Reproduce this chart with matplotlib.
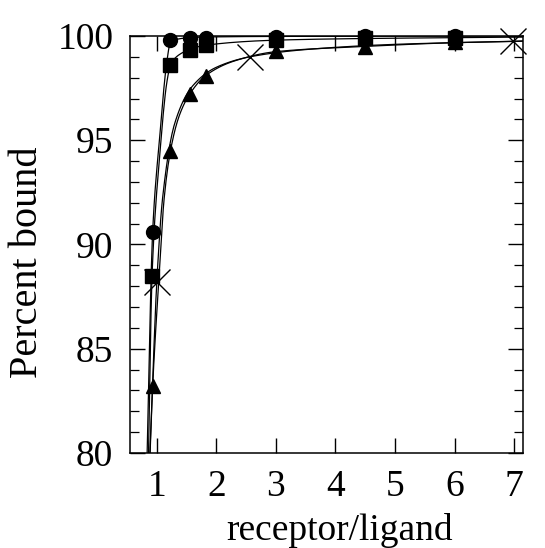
import numpy as np
import matplotlib
matplotlib.use("Agg")
import matplotlib.pyplot as plt

# ---- data ----
circle_x = [0.93, 1.23, 1.55, 1.82, 3.0, 4.5, 6.0]
circle_y = [90.6, 99.8, 99.9, 99.9, 99.95, 100.0, 100.0]

square_x = [0.92, 1.23, 1.55, 1.82, 3.0, 4.5, 6.0]
square_y = [88.5, 98.6, 99.35, 99.55, 99.8, 99.9, 99.9]

triangle_x = [0.93, 1.23, 1.55, 1.82, 3.0, 4.5, 6.0]
triangle_y = [83.2, 94.5, 97.2, 98.1, 99.3, 99.45, 99.7]

cross_x = [1.0, 2.56, 6.98]
cross_y = [88.2, 99.0, 99.75]

# fitted curves (knots)
circle_curve_x = [0.83, 0.93, 1.05, 1.17, 1.23, 1.35, 1.55, 1.8, 3.0, 7.2]
circle_curve_y = [79.0, 90.6, 95.2, 98.8, 99.7, 99.85, 99.92, 99.95, 99.98, 100.0]

square_curve_x = [0.855, 0.92, 1.05, 1.17, 1.23, 1.35, 1.55, 1.8, 3.0, 4.5, 6.0, 7.2]
square_curve_y = [79.0, 88.5, 94.3, 97.8, 98.6, 99.05, 99.35, 99.55, 99.8, 99.88, 99.92, 99.95]

triangle_curve_x = [0.87, 0.93, 1.05, 1.12, 1.23, 1.38, 1.55, 1.82, 2.3, 3.0, 4.5, 6.0, 7.2]
triangle_curve_y = [79.0, 83.2, 89.0, 92.1, 94.5, 96.2, 97.2, 98.1, 98.8, 99.25, 99.5, 99.68, 99.75]

cross_curve_x = [0.875, 1.0, 1.1, 1.3, 1.6, 2.0, 2.56, 3.5, 5.0, 7.0, 7.2]
cross_curve_y = [79.0, 88.2, 92.3, 95.8, 97.6, 98.5, 99.0, 99.35, 99.6, 99.75, 99.77]

xticks = [1, 2, 3, 4, 5, 6, 7]
yticks = [80, 85, 90, 95, 100]


def pchip(x, y, n=400):
    x = np.asarray(x, float)
    y = np.asarray(y, float)
    h = np.diff(x)
    d = np.diff(y) / h
    m = np.zeros_like(y)
    for k in range(1, len(x) - 1):
        if d[k - 1] * d[k] <= 0:
            m[k] = 0
        else:
            w1 = 2 * h[k] + h[k - 1]
            w2 = h[k] + 2 * h[k - 1]
            m[k] = (w1 + w2) / (w1 / d[k - 1] + w2 / d[k])
    m[0] = d[0]
    m[-1] = d[-1]
    xs = np.linspace(x[0], x[-1], n)
    idx = np.clip(np.searchsorted(x, xs) - 1, 0, len(x) - 2)
    t = (xs - x[idx]) / h[idx]
    h00 = 2 * t**3 - 3 * t**2 + 1
    h10 = t**3 - 2 * t**2 + t
    h01 = -2 * t**3 + 3 * t**2
    h11 = t**3 - t**2
    ys = h00 * y[idx] + h10 * h[idx] * m[idx] + h01 * y[idx + 1] + h11 * h[idx] * m[idx + 1]
    return xs, ys


plt.rcParams['font.family'] = ['Liberation Serif', 'DejaVu Serif']

W, H = 545, 548
fig = plt.figure(figsize=(W / 100, H / 100), dpi=100)
ax = fig.add_axes([130 / W, 1 - 453 / H, (523 - 130) / W, (453 - 36) / H])

for cx, cy in [(circle_curve_x, circle_curve_y), (square_curve_x, square_curve_y),
               (triangle_curve_x, triangle_curve_y), (cross_curve_x, cross_curve_y)]:
    xs, ys = pchip(cx, cy)
    ax.plot(xs, ys, color='black', lw=0.9, zorder=2)

ax.plot(circle_x, circle_y, 'o', color='black', ms=10, ls='none', zorder=3, clip_on=False)
ax.plot(square_x, square_y, 's', color='black', ms=9.5, ls='none', zorder=3, clip_on=False)
ax.plot(triangle_x, triangle_y, '^', color='black', ms=10.5, ls='none', zorder=3, clip_on=False)
ax.plot(cross_x, cross_y, 'x', color='black', ms=19, mew=1.0, ls='none', zorder=3, clip_on=False)

ax.set_xlim(0.55, 7.15)
ax.set_ylim(80, 100)
ax.set_xticks(xticks)
ax.set_yticks(yticks)
ax.set_yticks(np.arange(80, 101, 1), minor=True)

ax.tick_params(axis='both', which='major', direction='in', length=11, width=1.0,
               labelsize=27, top=True, right=True, pad=12)
ax.tick_params(axis='y', which='minor', direction='in', length=6.5, width=0.9, right=True)
ax.tick_params(axis='x', which='minor', bottom=False, top=False)

for s in ax.spines.values():
    s.set_linewidth(1.1)

fig.text(340 / W, 1 - 531 / H, 'receptor/ligand', fontsize=27, ha='center', va='center')
fig.text(28 / W, 1 - 262 / H, 'Percent bound', fontsize=29, ha='center', va='center',
         rotation=90)

fig.savefig('out.png', dpi=100)
